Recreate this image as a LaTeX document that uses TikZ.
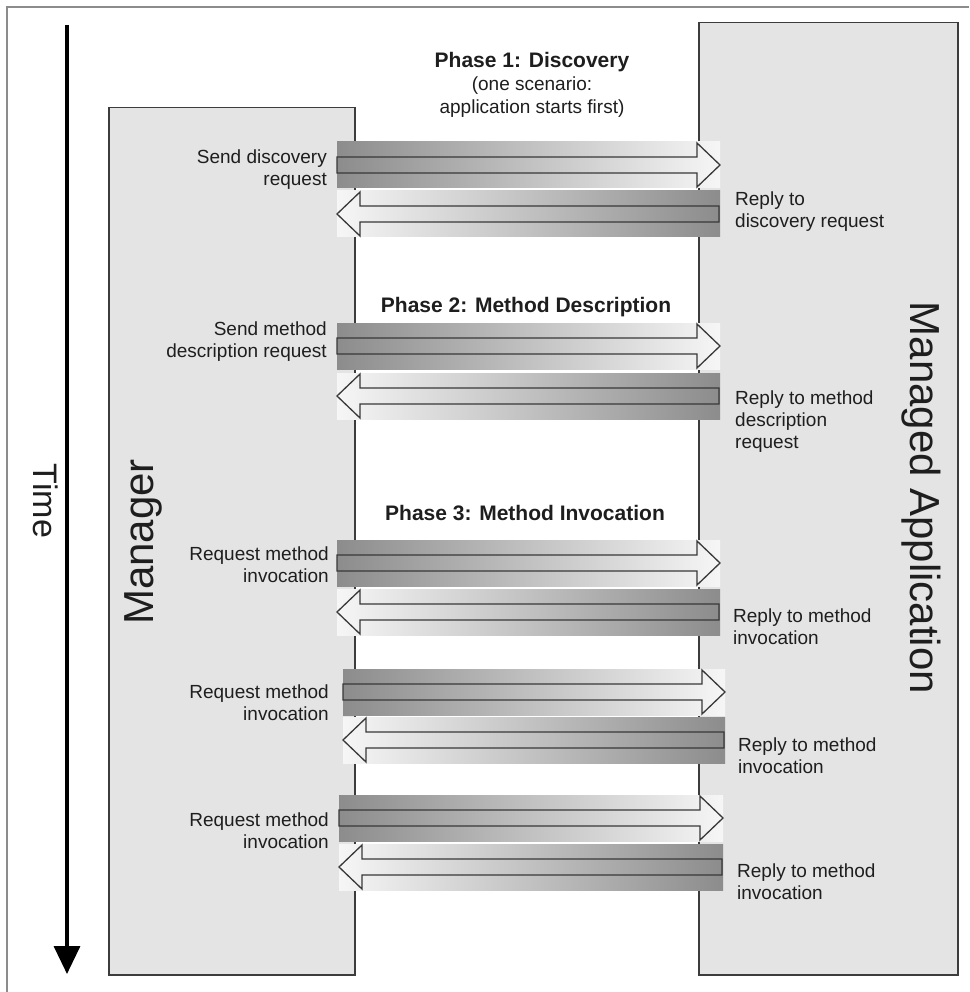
\documentclass[tikz,border=0pt]{standalone}
\usepackage{fontspec}
\setmainfont{Liberation Sans}
\usetikzlibrary{arrows.meta,shadows}
\definecolor{boxfill}{HTML}{E4E4E4}
\definecolor{boxline}{HTML}{3C3C3C}
\definecolor{framegray}{HTML}{8C8C8C}
\definecolor{banddark}{HTML}{8C8C8C}
\definecolor{bandlight}{HTML}{F6F6F6}
\definecolor{arrline}{HTML}{383838}
\definecolor{txt}{HTML}{1E1E1E}
\begin{document}
\begin{tikzpicture}[x=1pt,y=-1pt,
  lane/.style={draw=boxline, line width=1.5pt, fill=boxfill, anchor=north west, inner sep=0pt,
    drop shadow={shadow xshift=1.5pt, shadow yshift=-1.5pt, fill=black!70, opacity=1}},
  lbl/.style={inner sep=0pt, font=\fontsize{19}{22}\selectfont, text=txt},
  lblL/.style={lbl, anchor=north east, align=right},
  lblR/.style={lbl, anchor=north west, align=left},
  phase/.style={inner sep=0pt, anchor=north, align=center, font=\fontsize{19}{23}\selectfont, text=txt},
  phasehead/.style={inner sep=0pt, anchor=north, font=\fontsize{21}{24}\selectfont\bfseries, text=txt},
  big/.style={inner sep=0pt, font=\fontsize{42}{48}\selectfont, text=txt},
  bandR/.style={left color=banddark, right color=bandlight},
  bandL/.style={left color=bandlight, right color=banddark},
  arrowline/.style={draw=arrline, line width=1.3pt, line join=miter}
]
\useasboundingbox (0,0) rectangle (969,992);
\fill[white] (0,0) rectangle (969,992);
% frame
\draw[framegray, line width=2pt] (7,992) -- (7,7) -- (969,7);

% lanes
\node[lane, minimum width=246pt, minimum height=867pt] (mgr) at (108,107) {};
\node[lane, minimum width=259pt, minimum height=952pt] (app) at (698,22) {};

% time axis
\coordinate (t0) at (67,25);
\coordinate (t1) at (67,974);
\draw[line width=3.5pt, -{Triangle[width=26pt,length=28pt]}] (t0) -- (t1);
\node[rotate=-90, inner sep=0pt, font=\fontsize{34}{38}\selectfont, text=txt] (time) at (46,501) {Time};

\node[big, rotate=90] (mgrlbl) at (143,542) {Manager};
\node[big, rotate=-90] (applbl) at (921,498) {Managed Application};

% message arrows
\foreach \xa/\xb/\ya/\yb in {337/720/142/191, 337/720/323/373, 337/720/540/589, 343/725/669/717, 339/723/795/844}{
  \shade[bandR] (\xa,\ya) rectangle (\xb,\ya+46);
  \shade[bandR, arrowline] (\xa,\ya+15) -- (\xb-23,\ya+15) -- (\xb-23,\ya+1) -- (\xb,\ya+23)
     -- (\xb-23,\ya+45) -- (\xb-23,\ya+31) -- (\xa,\ya+31) -- cycle;
  \shade[bandL] (\xa,\yb) rectangle (\xb,\yb+46);
  \shade[bandL, arrowline] (\xb-1,\yb+15) -- (\xa+23,\yb+15) -- (\xa+23,\yb+1) -- (\xa,\yb+23)
     -- (\xa+23,\yb+45) -- (\xa+23,\yb+31) -- (\xb-1,\yb+31) -- cycle;
}

% phases
\node[phasehead] (ph1) at (532,52) {Phase 1: Discovery};
\node[phase] (ph1b) at (532,77) {(one scenario:\\application starts first)};
\node[phasehead] (ph2) at (526,297) {Phase 2: Method Description};
\node[phasehead] (ph3) at (525,505) {Phase 3: Method Invocation};

% labels
\node[lblL] (s1) at (327,150) {Send discovery\\request};
\node[lblR] (r1) at (735,192) {Reply to\\discovery request};
\node[lblL] (s2) at (327,322) {Send method\\description request};
\node[lblR] (r2) at (735,391) {Reply to method\\description\\request};
\node[lblL] (s3) at (329,547) {Request method\\invocation};
\node[lblR] (r3) at (733,609) {Reply to method\\invocation};
\node[lblL] (s4) at (329,685) {Request method\\invocation};
\node[lblR] (r4) at (738,738) {Reply to method\\invocation};
\node[lblL] (s5) at (329,813) {Request method\\invocation};
\node[lblR] (r5) at (737,864) {Reply to method\\invocation};
\end{tikzpicture}
\end{document}
